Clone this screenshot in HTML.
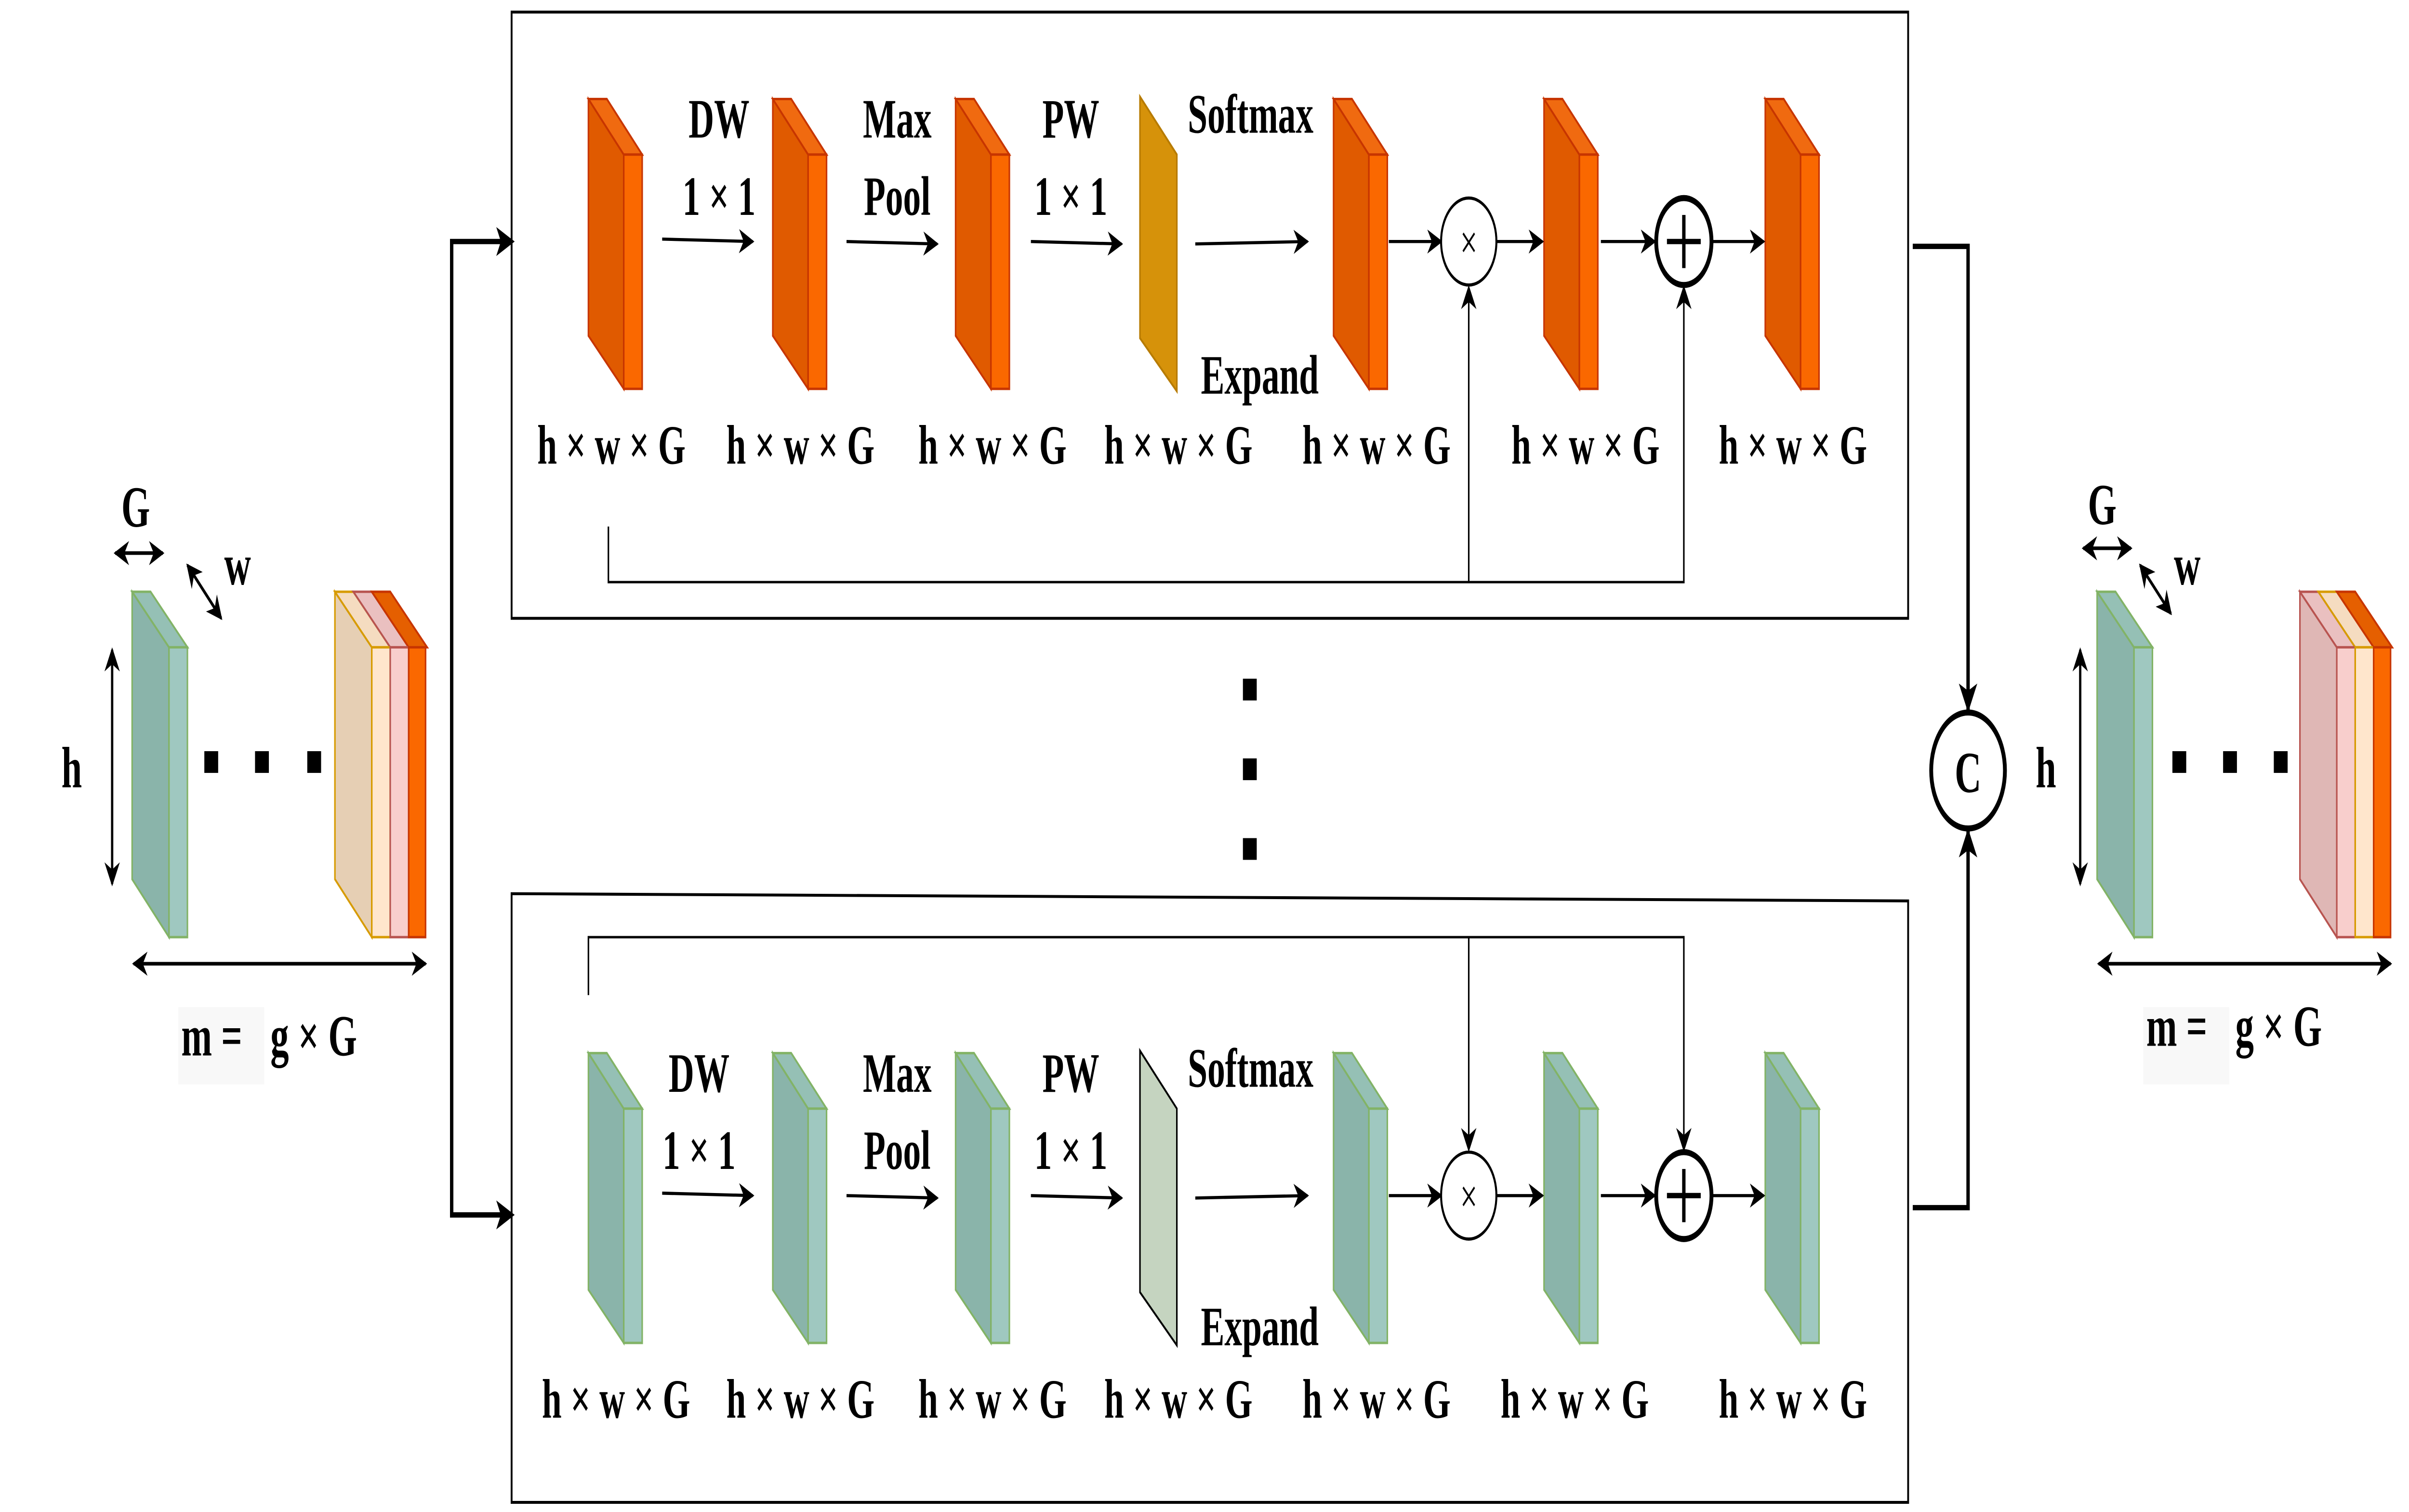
<!DOCTYPE html>
<html><head><meta charset="utf-8">
<style>html,body{margin:0;padding:0;background:#fff;width:100%;height:100%;overflow:hidden}svg{display:block;width:100vw;height:100vh}</style></head>
<body>
<svg viewBox="0 0 1568 626" preserveAspectRatio="none" xmlns="http://www.w3.org/2000/svg">
<defs>
<marker id="a" markerWidth="10" markerHeight="10" refX="9" refY="5" orient="auto" markerUnits="userSpaceOnUse"><path d="M0,0 L10,5 L0,10 L3,5 Z" fill="#000"/></marker>
<marker id="as" markerWidth="10" markerHeight="10" refX="1" refY="5" orient="auto" markerUnits="userSpaceOnUse"><path d="M10,0 L0,5 L10,10 L7,5 Z" fill="#000"/></marker>
<g id="ob">
<path d="M0,0 L23,23 L23,120 L0,98 Z" fill="#e05a00" stroke="#c73500" stroke-width="1"/>
<path d="M0,0 L12,0 L35,23 L23,23 Z" fill="#f06a10" stroke="#c73500" stroke-width="1"/>
<rect x="23" y="23" width="12" height="97" fill="#fa6800" stroke="#c73500" stroke-width="1"/>
</g>
<g id="gb">
<path d="M0,0 L23,23 L23,120 L0,98 Z" fill="#8ab4aa" stroke="#82b366" stroke-width="1"/>
<path d="M0,0 L12,0 L35,23 L23,23 Z" fill="#95c0b5" stroke="#82b366" stroke-width="1"/>
<rect x="23" y="23" width="12" height="97" fill="#9fc8c0" stroke="#82b366" stroke-width="1"/>
</g>
</defs>
<g font-family="Liberation Serif, serif" font-weight="bold" fill="#000">

<rect x="333" y="5" width="909" height="251" fill="none" stroke="#000" stroke-width="1.2"/>
<path d="M333,370 L1242,373 L1242,622 L333,622 Z" fill="none" stroke="#000" stroke-width="1.2"/>

<use href="#ob" x="383" y="41"/>
<use href="#ob" x="503" y="41"/>
<use href="#ob" x="622" y="41"/>
<path d="M742,40 L766,64 L766,162 L742,140 Z" fill="#d6920a" stroke="#b77b00" stroke-width="1"/>
<use href="#ob" x="868" y="41"/>
<use href="#ob" x="1005" y="41"/>
<use href="#ob" x="1149" y="41"/>
<g stroke="#000" stroke-width="1.3" fill="none">
<line x1="431" y1="99" x2="490" y2="100" marker-end="url(#a)"/>
<line x1="551" y1="100" x2="610" y2="101" marker-end="url(#a)"/>
<line x1="671" y1="100" x2="730" y2="101" marker-end="url(#a)"/>
<line x1="778" y1="101" x2="851" y2="100" marker-end="url(#a)"/>
<line x1="904" y1="100" x2="938" y2="100" marker-end="url(#a)"/>
<line x1="974" y1="100" x2="1004" y2="100" marker-end="url(#a)"/>
<line x1="1042" y1="100" x2="1077" y2="100" marker-end="url(#a)"/>
<line x1="1115" y1="100" x2="1148" y2="100" marker-end="url(#a)"/>
<polyline points="396,218 396,241 1096,241 1096,119" marker-end="url(#a)" stroke-width="1"/>
<line x1="956" y1="241" x2="956" y2="119" marker-end="url(#a)" stroke-width="1"/>
</g>
<circle cx="956" cy="100" r="18" fill="#fff" stroke="#000" stroke-width="1.3"/>
<text x="956" y="107" font-size="20" font-weight="normal" text-anchor="middle">×</text>
<circle cx="1096" cy="100" r="18" fill="#fff" stroke="#000" stroke-width="2.5"/>
<path d="M1096,89 V111 M1085,100 H1107" stroke="#000" stroke-width="2.2"/>
<g font-size="23" text-anchor="middle">
<text x="468" y="57">DW</text><text x="468" y="89">1 × 1</text>
<text x="584" y="57">Max</text><text x="584" y="89">Pool</text>
<text x="697" y="57">PW</text><text x="697" y="89">1 × 1</text>
<text x="814" y="55">Softmax</text><text x="820" y="163">Expand</text>
<text x="398" y="192">h × w × G</text><text x="521" y="192">h × w × G</text>
<text x="646" y="192">h × w × G</text><text x="767" y="192">h × w × G</text>
<text x="896" y="192">h × w × G</text><text x="1032" y="192">h × w × G</text>
<text x="1167" y="192">h × w × G</text>
</g>

<use href="#gb" x="383" y="436"/>
<use href="#gb" x="503" y="436"/>
<use href="#gb" x="622" y="436"/>
<path d="M742,435 L766,459 L766,557 L742,535 Z" fill="#c5d4c0" stroke="#000" stroke-width="1"/>
<use href="#gb" x="868" y="436"/>
<use href="#gb" x="1005" y="436"/>
<use href="#gb" x="1149" y="436"/>
<g stroke="#000" stroke-width="1.3" fill="none">
<line x1="431" y1="494" x2="490" y2="495" marker-end="url(#a)"/>
<line x1="551" y1="495" x2="610" y2="496" marker-end="url(#a)"/>
<line x1="671" y1="495" x2="730" y2="496" marker-end="url(#a)"/>
<line x1="778" y1="496" x2="851" y2="495" marker-end="url(#a)"/>
<line x1="904" y1="495" x2="938" y2="495" marker-end="url(#a)"/>
<line x1="974" y1="495" x2="1004" y2="495" marker-end="url(#a)"/>
<line x1="1042" y1="495" x2="1077" y2="495" marker-end="url(#a)"/>
<line x1="1115" y1="495" x2="1148" y2="495" marker-end="url(#a)"/>
<polyline points="383,412 383,388 1096,388 1096,476" marker-end="url(#a)" stroke-width="1"/>
<line x1="956" y1="388" x2="956" y2="476" marker-end="url(#a)" stroke-width="1"/>
</g>
<circle cx="956" cy="495" r="18" fill="#fff" stroke="#000" stroke-width="1.3"/>
<text x="956" y="502" font-size="20" font-weight="normal" text-anchor="middle">×</text>
<circle cx="1096" cy="495" r="18" fill="#fff" stroke="#000" stroke-width="2.5"/>
<path d="M1096,484 V506 M1085,495 H1107" stroke="#000" stroke-width="2.2"/>
<g font-size="23" text-anchor="middle">
<text x="455" y="452">DW</text><text x="455" y="484">1 × 1</text>
<text x="584" y="452">Max</text><text x="584" y="484">Pool</text>
<text x="697" y="452">PW</text><text x="697" y="484">1 × 1</text>
<text x="814" y="450">Softmax</text><text x="820" y="557">Expand</text>
<text x="401" y="587">h × w × G</text><text x="521" y="587">h × w × G</text>
<text x="646" y="587">h × w × G</text><text x="767" y="587">h × w × G</text>
<text x="896" y="587">h × w × G</text><text x="1025" y="587">h × w × G</text>
<text x="1167" y="587">h × w × G</text>
</g>

<rect x="809" y="281" width="9" height="9"/><rect x="809" y="314" width="9" height="9"/><rect x="809" y="347" width="9" height="9"/>

<g stroke="#000" stroke-width="2.2" fill="none">
<polyline points="333,100 294,100 294,503 333,503" />
<polyline points="1245,102 1281,102 1281,294" />
<polyline points="1245,500 1281,500 1281,344" />
</g>
<path d="M335,100 L323,94 L326,100 L323,106 Z M335,503 L323,497 L326,503 L323,509 Z M1281,295 L1275,283 L1281,286 L1287,283 Z M1281,343 L1275,355 L1281,352 L1287,355 Z" fill="#000"/>
<circle cx="1281" cy="319" r="24" fill="#fff" stroke="#000" stroke-width="2.5"/>
<text x="1281" y="328" font-size="24" text-anchor="middle">C</text>

<path d="M86,245 L110,268 L110,388 L86,364 Z" fill="#8ab4aa" stroke="#82b366"/>
<path d="M86,245 L98,245 L122,268 L110,268 Z" fill="#95c0b5" stroke="#82b366"/>
<rect x="110" y="268" width="12" height="120" fill="#9fc8c0" stroke="#82b366"/>
<path d="M218,245 L242,268 L242,388 L218,364 Z" fill="#e6cfb4" stroke="#d79b00"/>
<path d="M218,245 L230,245 L254,268 L242,268 Z" fill="#f5dcc0" stroke="#d79b00"/>
<path d="M230,245 L242,245 L266,268 L254,268 Z" fill="#eac0c0" stroke="#b85450"/>
<path d="M242,245 L254,245 L278,268 L266,268 Z" fill="#e55f00" stroke="#c73500"/>
<rect x="242" y="268" width="12" height="120" fill="#ffe6cc" stroke="#d79b00"/>
<rect x="254" y="268" width="12" height="120" fill="#f8cecc" stroke="#b85450"/>
<rect x="266" y="268" width="11" height="120" fill="#fa6800" stroke="#c73500"/>
<rect x="133" y="311" width="9" height="9"/><rect x="166" y="311" width="9" height="9"/><rect x="200" y="311" width="9" height="9"/>
<g stroke="#000" stroke-width="1.5" fill="none">
<line x1="75" y1="229" x2="106" y2="229" marker-start="url(#as)" marker-end="url(#a)"/>
<line x1="122" y1="234" x2="144" y2="256" marker-start="url(#as)" marker-end="url(#a)"/>
<line x1="73" y1="269" x2="73" y2="366" marker-start="url(#as)" marker-end="url(#a)"/>
<line x1="87" y1="399" x2="277" y2="399" marker-start="url(#as)" marker-end="url(#a)"/>
</g>
<g font-size="24">
<text x="79" y="218">G</text><text x="146" y="242">w</text><text x="40" y="326">h</text>
<rect x="116" y="417" width="56" height="32" fill="#f8f8f8"/>
<text x="118" y="437">m =</text><text x="176" y="437">g × G</text>
</g>

<path d="M1365,245 L1389,268 L1389,388 L1365,364 Z" fill="#8ab4aa" stroke="#82b366"/>
<path d="M1365,245 L1377,245 L1401,268 L1389,268 Z" fill="#95c0b5" stroke="#82b366"/>
<rect x="1389" y="268" width="12" height="120" fill="#9fc8c0" stroke="#82b366"/>
<path d="M1497,245 L1521,268 L1521,388 L1497,364 Z" fill="#dfb7b5" stroke="#b85450"/>
<path d="M1497,245 L1509,245 L1533,268 L1521,268 Z" fill="#eac0c0" stroke="#b85450"/>
<path d="M1509,245 L1521,245 L1545,268 L1533,268 Z" fill="#f5dcc0" stroke="#d79b00"/>
<path d="M1521,245 L1533,245 L1557,268 L1545,268 Z" fill="#e55f00" stroke="#c73500"/>
<rect x="1521" y="268" width="12" height="120" fill="#f8cecc" stroke="#b85450"/>
<rect x="1533" y="268" width="12" height="120" fill="#ffe6cc" stroke="#d79b00"/>
<rect x="1545" y="268" width="11" height="120" fill="#fa6800" stroke="#c73500"/>
<rect x="1414" y="311" width="9" height="9"/><rect x="1447" y="311" width="9" height="9"/><rect x="1480" y="311" width="9" height="9"/>
<g stroke="#000" stroke-width="1.5" fill="none">
<line x1="1356" y1="227" x2="1387" y2="227" marker-start="url(#as)" marker-end="url(#a)"/>
<line x1="1393" y1="234" x2="1413" y2="254" marker-start="url(#as)" marker-end="url(#a)"/>
<line x1="1354" y1="269" x2="1354" y2="366" marker-start="url(#as)" marker-end="url(#a)"/>
<line x1="1366" y1="399" x2="1556" y2="399" marker-start="url(#as)" marker-end="url(#a)"/>
</g>
<g font-size="24">
<text x="1359" y="217">G</text><text x="1415" y="242">w</text><text x="1325" y="326">h</text>
<rect x="1395" y="417" width="56" height="32" fill="#f8f8f8"/>
<text x="1397" y="433">m =</text><text x="1455" y="433">g × G</text>
</g>
</g>
</svg>
</body></html>
